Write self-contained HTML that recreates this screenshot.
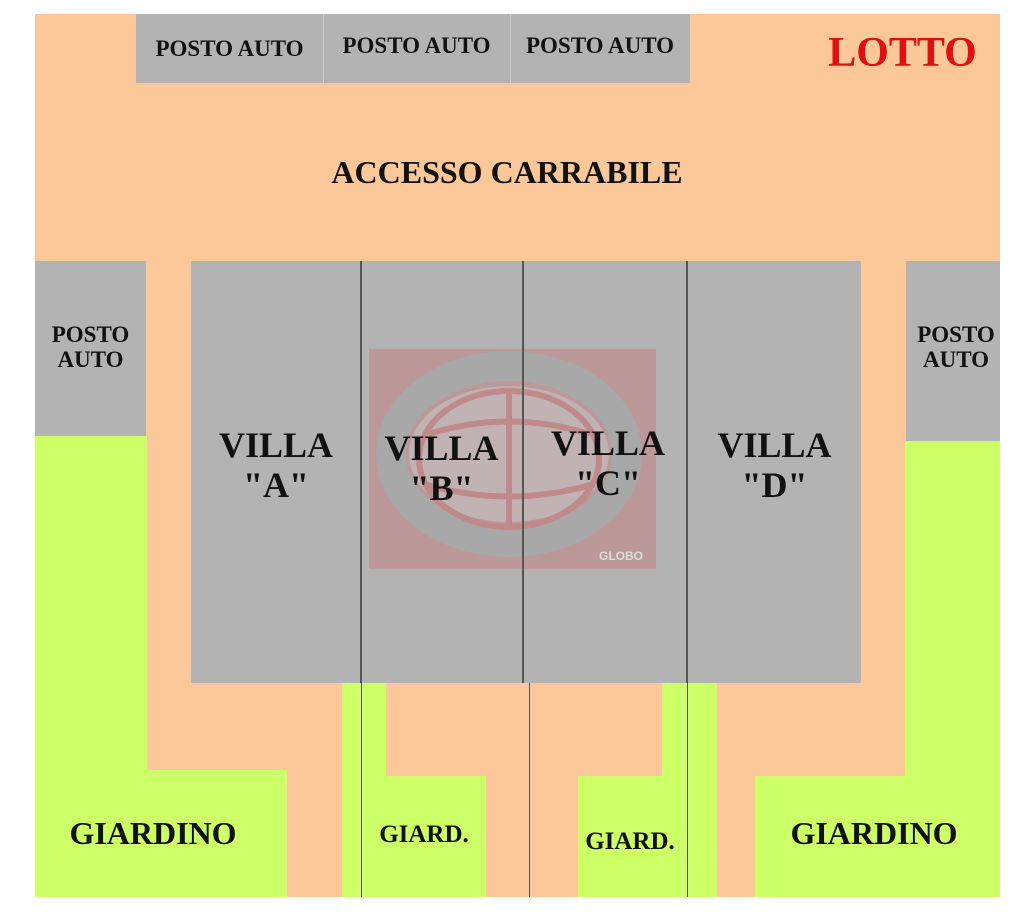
<!DOCTYPE html>
<html><head><meta charset="utf-8"><style>
body{margin:0;width:1024px;height:918px;background:#fff;position:relative;overflow:hidden;font-family:"Liberation Serif",serif;font-weight:bold}
div{position:absolute}
.p{background:#fdc899}.g{background:#cdff66}.r{background:#b3b3b3}
.t{color:#111;text-align:center;white-space:nowrap;line-height:1.1}
.l{background:#555;width:2px}
</style></head><body>
<div class="p" style="left:35px;top:14px;width:965px;height:883px"></div>
<div class="r" style="left:136px;top:14px;width:554px;height:69px"></div>
<div style="left:323px;top:14px;width:1px;height:69px;background:#ccc"></div>
<div style="left:510px;top:14px;width:1px;height:69px;background:#ccc"></div>
<div class="t" style="left:136px;top:36px;width:187px;font-size:23px">POSTO AUTO</div>
<div class="t" style="left:323px;top:33px;width:187px;font-size:23px">POSTO AUTO</div>
<div class="t" style="left:510px;top:33px;width:180px;font-size:23px">POSTO AUTO</div>
<div class="t" style="left:820px;top:30px;width:165px;font-size:42px;color:#e01010">LOTTO</div>
<div class="t" style="left:290px;top:155px;width:434px;font-size:32px">ACCESSO CARRABILE</div>
<!-- left -->
<div class="r" style="left:35px;top:261px;width:111px;height:175px"></div>
<div class="t" style="left:35px;top:322px;width:111px;font-size:23px">POSTO<br>AUTO</div>
<div class="g" style="left:35px;top:436px;width:112px;height:461px"></div>
<div class="g" style="left:35px;top:770px;width:252px;height:127px"></div>
<!-- right -->
<div class="r" style="left:906px;top:261px;width:94px;height:180px"></div>
<div class="t" style="left:906px;top:322px;width:100px;font-size:23px">POSTO<br>AUTO</div>
<div class="g" style="left:905px;top:441px;width:95px;height:456px"></div>
<div class="g" style="left:755px;top:776px;width:245px;height:121px"></div>
<!-- middle gardens -->
<div class="g" style="left:342px;top:683px;width:44px;height:214px"></div>
<div class="g" style="left:362px;top:776px;width:124px;height:121px"></div>
<div class="g" style="left:662px;top:683px;width:55px;height:214px"></div>
<div class="g" style="left:578px;top:776px;width:110px;height:121px"></div>
<div class="l" style="left:361px;top:683px;width:1px;height:214px"></div>
<div class="l" style="left:529px;top:683px;width:1px;height:214px"></div>
<div class="l" style="left:687px;top:683px;width:1px;height:214px"></div>
<!-- villas -->
<div class="r" style="left:191px;top:261px;width:670px;height:422px"></div>
<div style="left:369px;top:349px;width:287px;height:220px;background:rgba(200,120,120,.45)"></div>
<svg style="position:absolute;left:369px;top:349px" width="287" height="220">
<ellipse cx="140" cy="105" rx="118" ry="88" fill="none" stroke="#a8a8a8" stroke-width="30"/>
<ellipse cx="140" cy="105" rx="100" ry="68" fill="#c4c4c4" opacity=".6"/>
<ellipse cx="140" cy="110" rx="90" ry="68" fill="none" stroke="#c08a8a" stroke-width="6"/>
<path d="M60 85 Q140 60 220 85 M55 135 Q140 160 225 135" fill="none" stroke="#c08a8a" stroke-width="6"/>
<line x1="140" y1="42" x2="140" y2="178" stroke="#c08a8a" stroke-width="6"/>
<text x="252" y="211" fill="#ddd" font-family="Liberation Sans" font-weight="bold" font-size="12" text-anchor="middle">GLOBO</text>
</svg>
<div class="l" style="left:360px;top:261px;height:422px"></div>
<div class="l" style="left:522px;top:261px;height:422px"></div>
<div class="l" style="left:686px;top:261px;height:422px"></div>
<div class="t" style="left:191px;top:426px;width:170px;font-size:36px">VILLA<br>"A"</div>
<div class="t" style="left:361px;top:429px;width:161px;font-size:36px">VILLA<br>"B"</div>
<div class="t" style="left:523px;top:424px;width:170px;font-size:36px">VILLA<br>"C"</div>
<div class="t" style="left:688px;top:426px;width:173px;font-size:36px">VILLA<br>"D"</div>
<div class="t" style="left:33px;top:816px;width:240px;font-size:32px">GIARDINO</div>
<div class="t" style="left:362px;top:821px;width:124px;font-size:25px">GIARD.</div>
<div class="t" style="left:575px;top:828px;width:110px;font-size:25px">GIARD.</div>
<div class="t" style="left:758px;top:816px;width:232px;font-size:32px">GIARDINO</div>
</body></html>
